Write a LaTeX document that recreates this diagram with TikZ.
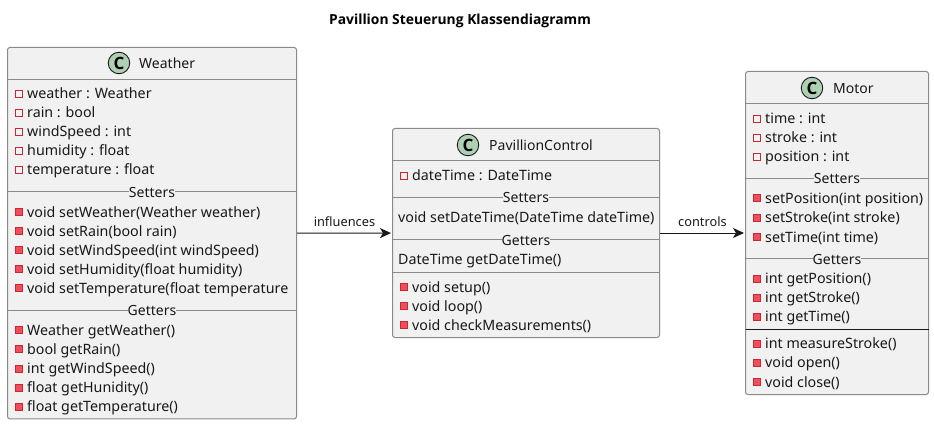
\documentclass[tikz,border=0pt]{standalone}
\usepackage{fontspec}
\setmainfont{Noto Sans}
\newfontfamily\headfont{Open Sans}
\usetikzlibrary{arrows.meta}
\definecolor{boxfill}{HTML}{F1F1F1}
\definecolor{boxline}{HTML}{8A8A8A}
\definecolor{iconfill}{HTML}{ADD1B2}
\definecolor{markline}{HTML}{C82930}
\definecolor{markfill}{HTML}{F24D5C}
\definecolor{inkdark}{HTML}{181818}
\tikzset{
  classbox/.style={draw=boxline,fill=boxfill,rounded corners=2.5pt,line width=1pt,inner sep=0pt},
  classicon/.style={circle,draw=inkdark,fill=iconfill,line width=.9pt,minimum size=21.5pt,inner sep=0pt,
    font=\headfont\fontsize{17}{19}\selectfont\bfseries,text=black},
  classname/.style={anchor=base west,inner sep=0pt,yshift=-.6pt,text=inkdark,font=\fontsize{14}{16}\selectfont},
  row/.style={anchor=base west,inner sep=0pt,yshift=-.6pt,text=inkdark,font=\fontsize{14.25}{16}\selectfont},
  septitle/.style={anchor=base,inner xsep=0pt,inner ysep=1pt,fill=boxfill,text=inkdark,font=\fontsize{14}{16}\selectfont},
  sepline/.style={draw=boxline,line width=1pt},
  fieldmark/.style={draw=markline,fill=boxfill,line width=.9pt,minimum size=7pt,inner sep=0pt},
  methodmark/.style={draw=markline,fill=markfill,line width=.9pt,minimum size=7pt,inner sep=0pt},
  link/.style={draw=inkdark,line width=1pt,-{Stealth[length=11pt,width=10pt,inset=3pt]},shorten >=1pt},
  linklabel/.style={above,inner sep=0pt,yshift=5.6pt,text=inkdark,font=\fontsize{12.8}{15}\selectfont}
}
\begin{document}
\begin{tikzpicture}[x=1pt,y=-1pt]
\useasboundingbox (0,0) rectangle (934,425);
\node[anchor=base,inner sep=0pt,font=\headfont\fontsize{13.85}{16}\selectfont\bfseries] (title) at (460,25) {Pavillion Steuerung Klassendiagramm};

\node[classbox,minimum width=289pt,minimum height=371.5pt] (weather) at (152,233.2) {};
\draw[sepline](7.5,79.5)--(296.5,79.5);
\draw[sepline](7.5,191.3)--(296.5,191.3);
\draw[sepline](7.5,310.3)--(296.5,310.3);
\node[classicon] (weathericon) at (119,63) {C};
\node[classname] (weathername) at (139,68) {Weather};
\node[septitle] (weathersetters) at (152,197) {Setters};
\node[septitle] (weathergetters) at (152,315.5) {Getters};
\node[fieldmark] (wm1) at (18.5,93.5) {};
\node[row] (w1) at (27,98) {weather : Weather};
\node[fieldmark] (wm2) at (18.5,112.8) {};
\node[row] (w2) at (27,117) {rain : bool};
\node[fieldmark] (wm3) at (18.5,131.8) {};
\node[row] (w3) at (27,136) {windSpeed : int};
\node[fieldmark] (wm4) at (18.5,150.8) {};
\node[row] (w4) at (27,155) {humidity : float};
\node[fieldmark] (wm5) at (18.5,169.8) {};
\node[row] (w5) at (27,174) {temperature : float};
\node[methodmark] (wm6) at (18.5,212.3) {};
\node[row] (w6) at (27,216.5) {void setWeather(Weather weather)};
\node[methodmark] (wm7) at (18.5,231.3) {};
\node[row] (w7) at (27,236) {void setRain(bool rain)};
\node[methodmark] (wm8) at (18.5,250.3) {};
\node[row] (w8) at (27,255) {void setWindSpeed(int windSpeed)};
\node[methodmark] (wm9) at (18.5,269.3) {};
\node[row] (w9) at (27,274) {void setHumidity(float humidity)};
\node[methodmark] (wm10) at (18.5,288.3) {};
\node[row] (w10) at (27,293) {void setTemperature(float temperature};
\node[methodmark] (wm11) at (18.5,330.3) {};
\node[row] (w11) at (27,335) {Weather getWeather()};
\node[methodmark] (wm12) at (18.5,349.3) {};
\node[row] (w12) at (27,354) {bool getRain()};
\node[methodmark] (wm13) at (18.5,369) {};
\node[row] (w13) at (27,373) {int getWindSpeed()};
\node[methodmark] (wm14) at (18.5,388) {};
\node[row] (w14) at (27,392) {float getHunidity()};
\node[methodmark] (wm15) at (18.5,407) {};
\node[row] (w15) at (27,411) {float getTemperature()};

\node[classbox,minimum width=267pt,minimum height=209pt] (control) at (526,233) {};
\draw[sepline](392.5,160.5)--(659.5,160.5);
\draw[sepline](392.5,197.3)--(659.5,197.3);
\draw[sepline](392.5,239.3)--(659.5,239.3);
\draw[sepline](392.5,272.3)--(659.5,272.3);
\node[classicon] (controlicon) at (468,145) {C};
\node[classname] (controlname) at (489,150) {PavillionControl};
\node[septitle] (controlsetters) at (526,202) {Setters};
\node[septitle] (controlgetters) at (526,245) {Getters};
\node[fieldmark] (cm1) at (403.5,175.5) {};
\node[row] (c1) at (412,180) {dateTime : DateTime};
\node[row] (c2) at (398,222) {void setDateTime(DateTime dateTime)};
\node[row] (c3) at (398,264) {DateTime getDateTime()};
\node[methodmark] (cm4) at (403.5,287.3) {};
\node[row] (c4) at (412,291.5) {void setup()};
\node[methodmark] (cm5) at (403.5,306.3) {};
\node[row] (c5) at (412,310.5) {void loop()};
\node[methodmark] (cm6) at (403.5,325.3) {};
\node[row] (c6) at (412,329.5) {void checkMeasurements()};

\node[classbox,minimum width=183pt,minimum height=323pt] (motor) at (837,233) {};
\draw[sepline](745.5,103.5)--(928.5,103.5);
\draw[sepline](745.5,178.3)--(928.5,178.3);
\draw[sepline](745.5,258.3)--(928.5,258.3);
\draw[draw=inkdark,line width=1pt](745.5,329.3)--(928.5,329.3);
\node[classicon] (motoricon) at (812,88) {C};
\node[classname] (motorname) at (833,93) {Motor};
\node[septitle] (motorsetters) at (837,183) {Setters};
\node[septitle] (motorgetters) at (837,264) {Getters};
\node[fieldmark] (mm1) at (756.5,118.5) {};
\node[row] (m1) at (765,123) {time : int};
\node[fieldmark] (mm2) at (756.5,137.5) {};
\node[row] (m2) at (765,142) {stroke : int};
\node[fieldmark] (mm3) at (756.5,156.5) {};
\node[row] (m3) at (765,161) {position : int};
\node[methodmark] (mm4) at (756.5,198.3) {};
\node[row] (m4) at (765,203) {setPosition(int position)};
\node[methodmark] (mm5) at (756.5,217.5) {};
\node[row] (m5) at (765,222) {setStroke(int stroke)};
\node[methodmark] (mm6) at (756.5,237) {};
\node[row] (m6) at (765,241.5) {setTime(int time)};
\node[methodmark] (mm7) at (756.5,279.3) {};
\node[row] (m7) at (765,283) {int getPosition()};
\node[methodmark] (mm8) at (756.5,298.3) {};
\node[row] (m8) at (765,302) {int getStroke()};
\node[methodmark] (mm9) at (756.5,317.3) {};
\node[row] (m9) at (765,321) {int getTime()};
\node[methodmark] (mm10) at (756.5,344.3) {};
\node[row] (m10) at (765,348) {int measureStroke()};
\node[methodmark] (mm11) at (756.5,363.3) {};
\node[row] (m11) at (765,367) {void open()};
\node[methodmark] (mm12) at (756.5,382.3) {};
\node[row] (m12) at (765,387) {void close()};

\draw[link] (weather) -- node[linklabel] (influences) {influences} (control);
\draw[link] (control) -- node[linklabel] (controls) {controls} (motor);
\end{tikzpicture}
\end{document}
